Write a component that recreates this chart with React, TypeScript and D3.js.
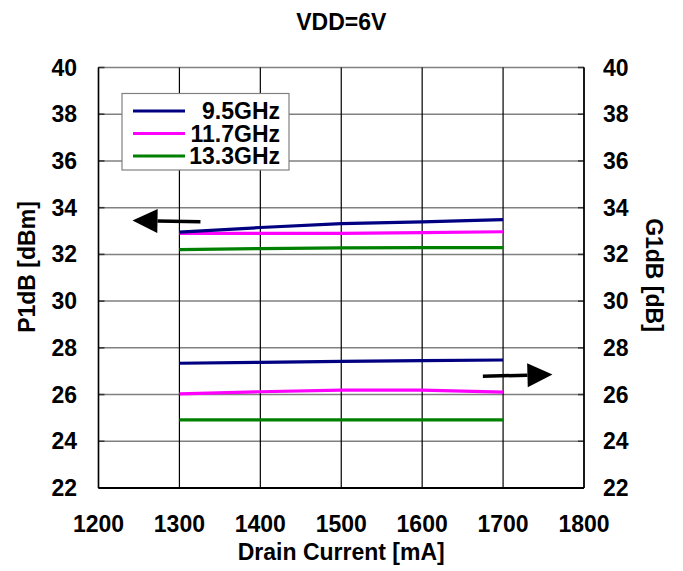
import React from "react";
import * as d3 from "d3";

// Drain current sweep (mA)
const currents = [1300, 1400, 1500, 1600, 1700];

// Series names, colours
const freqLabels = ["9.5GHz", "11.7GHz", "13.3GHz"];
const freqColors = ["#000080", "#ff00ff", "#008000"];

// P1dB [dBm] (left axis)
const p1db95 = [32.95, 33.15, 33.32, 33.39, 33.49];
const p1db117 = [32.9, 32.9, 32.9, 32.93, 32.97];
const p1db133 = [32.2, 32.25, 32.28, 32.29, 32.29];

// G1dB [dB] (right axis)
const g1db95 = [27.34, 27.38, 27.42, 27.45, 27.48];
const g1db117 = [26.03, 26.12, 26.19, 26.19, 26.1];
const g1db133 = [24.92, 24.92, 24.92, 24.92, 24.92];

// Axis ticks
const xTicks = [1200, 1300, 1400, 1500, 1600, 1700, 1800];
const yTicks = [22, 24, 26, 28, 30, 32, 34, 36, 38, 40];

// Axis-pointing arrows: [tailX, tailY, tipX, tipY] in data units
const arrowLeft = [1326, 33.4, 1242, 33.45];
const arrowRight = [1675, 26.78, 1761, 26.86];

const W = 683;
const H = 571;
const FONT = "'Liberation Sans', Arial, Helvetica, sans-serif";

export default function App() {
  const x = d3.scaleLinear().domain([1200, 1800]).range([98.5, 584]);
  const y = d3.scaleLinear().domain([22, 40]).range([488, 67.5]);

  const line = d3
    .line<[number, number]>()
    .x((d) => x(d[0]))
    .y((d) => y(d[1]));

  const p1dbSets = [p1db95, p1db117, p1db133];
  const g1dbSets = [g1db95, g1db117, g1db133];

  const [x0, x1] = x.range();
  const [yb, yt] = y.range();

  const arrow = (a: number[], key: string) => {
    const tx = x(a[0]);
    const ty = y(a[1]);
    const hx = x(a[2]);
    const hy = y(a[3]);
    const ang = Math.atan2(hy - ty, hx - tx);
    const headLen = 25;
    const headHalf = 12;
    const bx = hx - headLen * Math.cos(ang);
    const by = hy - headLen * Math.sin(ang);
    const px = -Math.sin(ang) * headHalf;
    const py = Math.cos(ang) * headHalf;
    return (
      <g key={key}>
        <line x1={tx} y1={ty} x2={bx} y2={by} stroke="#000" strokeWidth={3.5} />
        <path
          d={`M${hx},${hy}L${bx + px},${by + py}L${bx - px},${by - py}Z`}
          fill="#000"
        />
      </g>
    );
  };

  const fs = 23;

  return (
    <svg
      width={W}
      height={H}
      style={{ position: "absolute", left: 0, top: 0, background: "#fff" }}
      fontFamily={FONT}
      fontWeight="bold"
    >
      <rect width={W} height={H} fill="#fff" />

      {/* title */}
      <text x={(x0 + x1) / 2} y={30} textAnchor="middle" fontSize={fs}>
        VDD=6V
      </text>

      {/* horizontal gridlines */}
      {yTicks.map((t) => (
        <g key={`h${t}`}>
          <line x1={x0} x2={x1} y1={y(t)} y2={y(t)} stroke="#808080" strokeWidth={1.5} />
          <line x1={x0} x2={x0 + 6} y1={y(t)} y2={y(t)} stroke="#333" strokeWidth={1.5} />
          <line x1={x1 - 6} x2={x1} y1={y(t)} y2={y(t)} stroke="#333" strokeWidth={1.5} />
        </g>
      ))}

      {/* vertical gridlines */}
      {xTicks.map((t) => (
        <line key={`v${t}`} x1={x(t)} x2={x(t)} y1={yt} y2={yb} stroke="#000" strokeWidth={1.2} />
      ))}

      {/* frame */}
      <line x1={x0} x2={x1} y1={yb} y2={yb} stroke="#000" strokeWidth={2} />
      <line x1={x0} x2={x0} y1={yt} y2={yb} stroke="#000" strokeWidth={1.5} />
      <line x1={x1} x2={x1} y1={yt} y2={yb} stroke="#000" strokeWidth={1.5} />

      {/* left tick labels */}
      {yTicks.map((t) => (
        <text key={`yl${t}`} x={77} y={y(t)} dy="0.35em" textAnchor="end" fontSize={fs}>
          {t}
        </text>
      ))}
      {/* right tick labels */}
      {yTicks.map((t) => (
        <text key={`yr${t}`} x={603} y={y(t)} dy="0.35em" textAnchor="start" fontSize={fs}>
          {t}
        </text>
      ))}
      {/* x tick labels */}
      {xTicks.map((t) => (
        <text key={`xl${t}`} x={x(t)} y={532} textAnchor="middle" fontSize={fs}>
          {t}
        </text>
      ))}

      {/* axis titles */}
      <text x={(x0 + x1) / 2} y={560} textAnchor="middle" fontSize={fs}>
        Drain Current [mA]
      </text>
      <text
        transform={`translate(35,267) rotate(-90)`}
        textAnchor="middle"
        fontSize={fs}
      >
        P1dB [dBm]
      </text>
      <text
        transform={`translate(646,275) rotate(90)`}
        textAnchor="middle"
        fontSize={fs}
      >
        G1dB [dB]
      </text>

      {/* data lines */}
      {g1dbSets.map((vals, i) => (
        <path
          key={`g${i}`}
          d={line(currents.map((c, j) => [c, vals[j]]) as [number, number][]) || ""}
          fill="none"
          stroke={freqColors[i]}
          strokeWidth={3.2}
        />
      ))}
      {[2, 1, 0].map((i) => (
        <path
          key={`p${i}`}
          d={line(currents.map((c, j) => [c, p1dbSets[i][j]]) as [number, number][]) || ""}
          fill="none"
          stroke={freqColors[i]}
          strokeWidth={3.2}
        />
      ))}

      {/* arrows */}
      {arrow(arrowLeft, "al")}
      {arrow(arrowRight, "ar")}

      {/* legend */}
      <g>
        <rect x={122} y={93.5} width={167} height={76.5} fill="#fff" stroke="#808080" strokeWidth={1.2} />
        {freqLabels.map((lab, i) => {
          const ly = 111 + i * 22.5;
          return (
            <g key={lab}>
              <line x1={133} x2={185} y1={ly} y2={ly} stroke={freqColors[i]} strokeWidth={3.2} />
              <text x={280} y={ly} dy="0.36em" textAnchor="end" fontSize={fs}>
                {lab}
              </text>
            </g>
          );
        })}
      </g>
    </svg>
  );
}
